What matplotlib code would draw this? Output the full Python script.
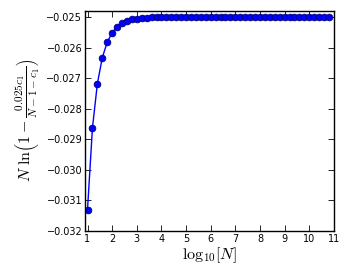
import matplotlib
matplotlib.use("Agg")
import matplotlib.pyplot as plt

plt.rcParams["mathtext.fontset"] = "cm"

# log10(N) sample points and values
log_n = [1.0, 1.2, 1.4, 1.6, 1.8, 2.0, 2.2, 2.4, 2.6, 2.8,
         3.0, 3.2, 3.4, 3.6, 3.8, 4.0, 4.2, 4.4, 4.6, 4.8,
         5.0, 5.2, 5.4, 5.6, 5.8, 6.0, 6.2, 6.4, 6.6, 6.8,
         7.0, 7.2, 7.4, 7.6, 7.8, 8.0, 8.2, 8.4, 8.6, 8.8,
         9.0, 9.2, 9.4, 9.6, 9.8, 10.0, 10.2, 10.4, 10.6, 10.8]
values = [-0.03130, -0.02863, -0.02718, -0.02633, -0.02582,
          -0.025513, -0.02532, -0.02520, -0.025126, -0.02508,
          -0.02505, -0.025032, -0.02502, -0.025013, -0.025008,
          -0.025005, -0.025003, -0.025002, -0.025001, -0.025001,
          -0.025001, -0.025, -0.025, -0.025, -0.025,
          -0.025, -0.025, -0.025, -0.025, -0.025,
          -0.025, -0.025, -0.025, -0.025, -0.025,
          -0.025, -0.025, -0.025, -0.025, -0.025,
          -0.025, -0.025, -0.025, -0.025, -0.025,
          -0.025, -0.025, -0.025, -0.025, -0.025]
y_ticks = [-0.032, -0.031, -0.030, -0.029, -0.028, -0.027, -0.026, -0.025]

fig = plt.figure(figsize=(3.5, 2.8), dpi=100)
ax = fig.add_axes([0.243, 0.175, 0.711, 0.786])

ax.plot(log_n, values, "o-", color="blue", markeredgecolor="#000080",
        markersize=4.8, linewidth=1.0, markeredgewidth=0.6)

ax.set_xlim(0.9, 11)
ax.set_ylim(-0.032, -0.0248)
ax.set_xticks(range(1, 12))
ax.set_yticks(y_ticks)
ax.set_yticklabels([f"{t:.3f}".replace("-", "\u2212") for t in y_ticks])

ax.tick_params(direction="in", top=True, right=True, labelsize=7,
               length=4, width=0.6, pad=2)
for s in ax.spines.values():
    s.set_linewidth(1.0)

ax.set_xlabel(r"$\mathrm{log}_{10}[N]$", fontsize=11.5, labelpad=1)
ax.set_ylabel(r"$N\ \ln\!\left(1-\frac{0.025c_1}{N-1-c_1}\right)$",
              fontsize=11.5, labelpad=3)

fig.savefig("out.png", dpi=100)
